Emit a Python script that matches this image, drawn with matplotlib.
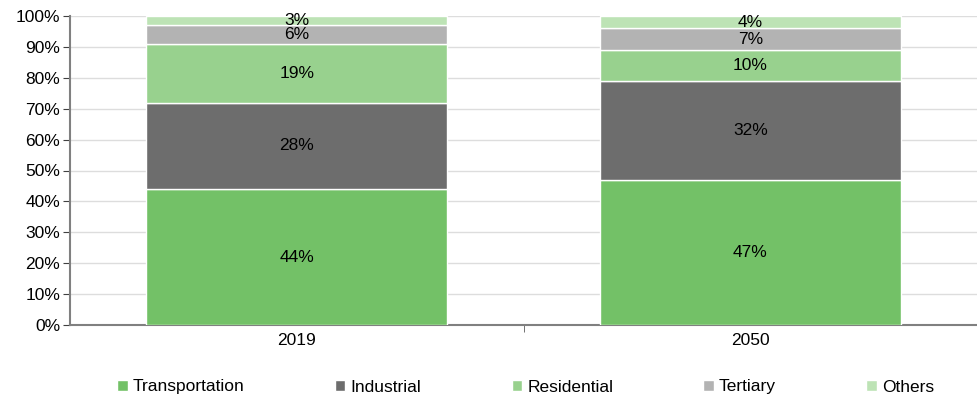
import matplotlib.pyplot as plt
import numpy as np

plt.rcParams['font.family'] = ['Liberation Sans Narrow', 'Liberation Sans', 'DejaVu Sans']

years = ['2019', '2050']
series = ['Transportation', 'Industrial', 'Residential', 'Tertiary', 'Others']
transportation = [44, 47]
industrial = [28, 32]
residential = [19, 10]
tertiary = [6, 7]
others = [3, 4]
colors = ['#73c167', '#6d6d6d', '#98d18e', '#b3b3b3', '#bde3b5']

values = [transportation, industrial, residential, tertiary, others]

fig = plt.figure(figsize=(9.77, 3.96), dpi=100)
ax = fig.add_axes([70 / 977, 1 - 325 / 396, 907 / 977, 309 / 396])

x = np.arange(len(years))
bottom = np.zeros(len(years))
for name, vals, col in zip(series, values, colors):
    vals = np.asarray(vals, dtype=float)
    ax.bar(x, vals, 0.664, bottom=bottom, color=col, edgecolor='white',
           linewidth=1, label=name, zorder=3)
    for xi, b, v in zip(x, bottom, vals):
        ax.text(xi, b + v / 2, f'{int(v)}%', ha='center', va='center',
                fontsize=12.5, color='black', zorder=4)
    bottom += vals

ax.set_xlim(-0.5, 1.5)
ax.set_ylim(0, 100)
ax.set_yticks(np.arange(0, 101, 10))
ax.set_yticklabels([f'{v}%' for v in range(0, 101, 10)], fontsize=12.5)
ax.yaxis.grid(True, color='#dddddd', linewidth=1, zorder=0)
ax.set_axisbelow(True)

ax.set_xticks(x)
ax.set_xticklabels(years, fontsize=12.5)
ax.tick_params(axis='x', length=0, pad=6)
ax.set_xticks([0.5], minor=True)
ax.tick_params(axis='x', which='minor', length=5, color='#595959', direction='out')
ax.tick_params(axis='y', length=5, color='#404040', direction='out', pad=2)

for s in ['top', 'right']:
    ax.spines[s].set_visible(False)
ax.spines['left'].set_color('#808080')
ax.spines['left'].set_linewidth(1.5)
ax.spines['bottom'].set_color('#808080')
ax.spines['bottom'].set_linewidth(1.5)

handles, labels = ax.get_legend_handles_labels()
fig.legend(handles, labels, loc='center', bbox_to_anchor=(0.538, 1 - 387 / 396),
           ncol=5, frameon=False, fontsize=12.5, handlelength=0.6, handleheight=0.6,
           handletextpad=0.3, columnspacing=5.2, borderpad=0)

fig.savefig('out.png', dpi=100)
